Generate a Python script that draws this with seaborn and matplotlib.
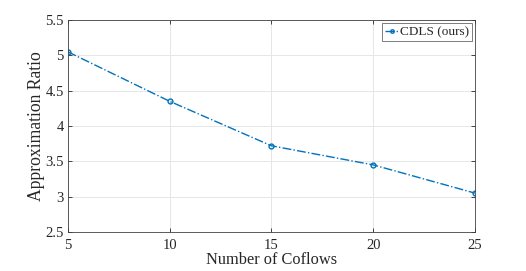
import matplotlib
matplotlib.use("Agg")
import matplotlib.pyplot as plt
import seaborn as sns
import pandas as pd

num_coflows = [5, 10, 15, 20, 25]
ratio = [5.05, 4.35, 3.72, 3.45, 3.05]
series_name = "CDLS (ours)"

sns.set_style("white")
plt.rcParams['font.family'] = ['Liberation Serif', 'DejaVu Serif']

df = pd.DataFrame({"x": num_coflows, "y": ratio, "s": series_name})

color = "#0072BD"
fig = plt.figure(figsize=(5.26, 2.71), dpi=100)
ax = fig.add_axes([0.129, 0.144, 0.774, 0.782])
sns.lineplot(data=df, x="x", y="y", hue="s", palette=[color], ax=ax,
             marker="o", markersize=3.5, linewidth=1.0)
for l in ax.lines:
    l.set_linestyle("-.")
    l.set_marker("o")
    l.set_markersize(3.5)
    l.set_markerfacecolor("none")
    l.set_markeredgecolor(color)
    l.set_markeredgewidth(1.0)

ax.set_xlim(5, 25)
ax.set_ylim(2.5, 5.5)
ax.set_xticks([5, 10, 15, 20, 25])
ax.set_yticks([2.5, 3, 3.5, 4, 4.5, 5, 5.5])
ax.set_yticklabels(["2.5", "3", "3.5", "4", "4.5", "5", "5.5"])
ax.grid(True, color="#e6e6e6", linewidth=0.7)
ax.tick_params(direction="in", length=3, labelsize=10.5, colors="#262626",
               top=True, right=True, bottom=True, left=True, width=0.6, pad=3)
ax.tick_params(axis="x", pad=5)
for sp in ax.spines.values():
    sp.set_color("#404040")
    sp.set_linewidth(0.6)
ax.set_xlabel("Number of Coflows", fontsize=11.8, color="#262626", labelpad=0)
ax.set_ylabel("Approximation Ratio", fontsize=12.7, color="#262626", labelpad=0)

leg = ax.legend(loc="upper right", fontsize=9.5, frameon=True, fancybox=False,
                handlelength=1.05, handletextpad=0.1, borderpad=0.2,
                borderaxespad=0.25)
for h in leg.legend_handles:
    h.set_linestyle("-.")
    h.set_marker("o")
    h.set_markersize(2.5)
    h.set_markerfacecolor("none")
    h.set_markeredgecolor(color)
leg.get_frame().set_edgecolor("#404040")
leg.get_frame().set_linewidth(0.6)

fig.savefig("out.png", dpi=100)
